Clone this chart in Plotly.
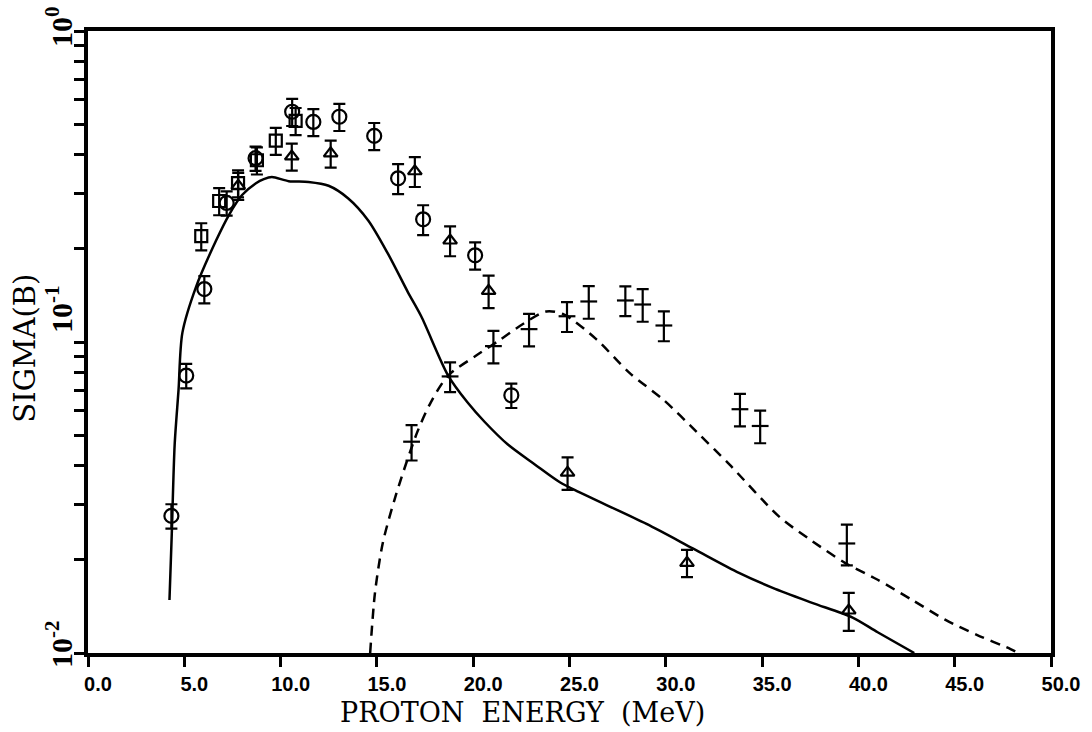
import math
import plotly.graph_objects as go

# ---------------- data ----------------
circ_x = [4.33, 5.1, 6.04, 7.2, 8.7, 10.6, 11.7, 13.05, 14.86, 16.1, 17.4, 20.1, 21.98]
circ_y = [0.0276, 0.078, 0.148, 0.28, 0.39, 0.55, 0.51, 0.53, 0.46, 0.336, 0.248, 0.19, 0.0674]
circ_err = [0.09, 0.09, 0.10, 0.09, 0.09, 0.10, 0.10, 0.10, 0.10, 0.11, 0.11, 0.10, 0.09]

sq_x = [5.88, 6.81, 7.79, 8.77, 9.75, 10.78]
sq_y = [0.219, 0.284, 0.324, 0.384, 0.444, 0.514]
sq_err = [0.10, 0.10, 0.10, 0.10, 0.10, 0.10]

tri_x = [7.8, 10.58, 12.6, 16.97, 18.8, 20.8, 24.9, 31.1, 39.5]
tri_y = [0.318, 0.395, 0.404, 0.354, 0.212, 0.146, 0.038, 0.0195, 0.0137]
tri_err = [0.10, 0.10, 0.10, 0.11, 0.11, 0.12, 0.12, 0.10, 0.14]

plus_x = [16.8, 18.8, 21.05, 22.9, 24.87, 26.0, 27.9, 28.8, 29.9, 33.85, 34.9, 39.4]
plus_y = [0.0478, 0.0775, 0.097, 0.11, 0.121, 0.135, 0.136, 0.132, 0.113, 0.0608, 0.0537, 0.0225]
plus_err = [0.13, 0.11, 0.12, 0.12, 0.11, 0.12, 0.11, 0.12, 0.11, 0.12, 0.12, 0.15]

theory_x = [4.23, 4.35, 4.5, 4.7, 4.9, 5.62, 6.65, 7.33, 8.0, 8.72, 9.13, 9.55, 10.42,
            11.45, 12.49, 13.5, 14.55, 15.58, 16.6, 17.3, 18.7, 19.7, 20.6, 21.8, 23.2,
            24.5, 25.5, 29.0, 31.4, 33.8, 35.55, 37.6, 39.7, 41.0, 42.9]
theory_y = [0.0148, 0.0242, 0.0468, 0.07, 0.107, 0.151, 0.212, 0.257, 0.297, 0.324, 0.334,
            0.339, 0.329, 0.327, 0.318, 0.29, 0.246, 0.192, 0.145, 0.121, 0.078, 0.064,
            0.0553, 0.0468, 0.0404, 0.0354, 0.0329, 0.026, 0.0217, 0.0181, 0.0162, 0.0145,
            0.0130, 0.01166, 0.01]

dash_x = [14.65, 14.9, 15.3, 16.0, 17.1, 17.8, 18.7, 20.1, 21.3, 22.65, 23.8, 24.7, 26.4,
          28.1, 29.9, 31.6, 33.3, 35.9, 37.6, 39.3, 41.0, 42.8, 44.5, 46.2, 47.9, 48.3]
dash_y = [0.01, 0.0156, 0.0225, 0.0324, 0.0514, 0.064, 0.078, 0.090, 0.1007, 0.115,
          0.1254, 0.1227, 0.102, 0.0797, 0.065, 0.0514, 0.0404, 0.0274, 0.0229, 0.0195,
          0.0172, 0.0148, 0.0128, 0.0114, 0.0103, 0.01]

x_tickvals = [0, 5, 10, 15, 20, 25, 30, 35, 40, 45, 50]
x_ticktext = ["0.0", "5.0", "10.0", "15.0", "20.0", "25.0", "30.0", "35.0", "40.0", "45.0", "50.0"]

y_tickvals = [0.01, 0.02, 0.03, 0.04, 0.05, 0.06, 0.07, 0.08, 0.09,
              0.1, 0.2, 0.3, 0.4, 0.5, 0.6, 0.7, 0.8, 0.9, 1.0]
y_label_vals = [0.01, 0.1, 1.0]
y_label_text = ["10<sup>-2</sup>", "10<sup>-1</sup>", "10<sup>0</sup>"]

x_title = "PROTON\u00a0\u00a0ENERGY\u00a0\u00a0(MeV)"
y_title = "SIGMA(B)"

# ---------------- styling ----------------
SERIF = "DejaVu Serif"
SERIF2 = "Liberation Serif"
SANS = "Liberation Sans"
y_label_shift = [9, 33, 4]   # px, placement of the rotated decade labels

fig = go.Figure()

fig.add_trace(go.Scatter(x=theory_x, y=theory_y, mode="lines",
                         line=dict(color="black", width=2.5, shape="spline", smoothing=0.8),
                         showlegend=False, hoverinfo="skip"))
fig.add_trace(go.Scatter(x=dash_x, y=dash_y, mode="lines",
                         line=dict(color="black", width=2.5, dash="10px,7px", shape="spline", smoothing=0.8),
                         showlegend=False, hoverinfo="skip"))


def err(ys, fr):
    return dict(type="data", symmetric=False,
                array=[y * f for y, f in zip(ys, fr)],
                arrayminus=[y * f for y, f in zip(ys, fr)],
                color="black", thickness=2.2, width=6)


fig.add_trace(go.Scatter(x=circ_x, y=circ_y, mode="markers",
                         marker=dict(symbol="circle-open", size=14, color="black", line=dict(width=2.2)),
                         error_y=err(circ_y, circ_err), showlegend=False))
fig.add_trace(go.Scatter(x=sq_x, y=sq_y, mode="markers",
                         marker=dict(symbol="square-open", size=12, color="black", line=dict(width=2.2)),
                         error_y=err(sq_y, sq_err), showlegend=False))
fig.add_trace(go.Scatter(x=tri_x, y=tri_y, mode="markers",
                         marker=dict(symbol="triangle-up-open", size=12, color="black", line=dict(width=2.2)),
                         error_y=err(tri_y, tri_err), showlegend=False))
fig.add_trace(go.Scatter(x=plus_x, y=plus_y, mode="markers",
                         marker=dict(symbol="line-ew-open", size=12, color="black", line=dict(width=2.2, color="black")),
                         error_y=err(plus_y, plus_err), showlegend=False))

annotations = [
    dict(text=x_title, xref="paper", yref="paper", x=0.451, y=-0.095,
         xanchor="center", yanchor="middle", showarrow=False,
         font=dict(family=SERIF, size=27, color="black")),
    dict(text=y_title, xref="paper", yref="paper", x=-0.065, y=0.49,
         xanchor="center", yanchor="middle", textangle=-90, showarrow=False,
         font=dict(family=SERIF, size=29, color="black")),
]
for v, t, s in zip(y_label_vals, y_label_text, y_label_shift):
    annotations.append(dict(text=t, xref="paper", yref="y", x=-0.03, y=math.log10(v),
                            yshift=s, xanchor="center", yanchor="middle", textangle=-90,
                            showarrow=False,
                            font=dict(family=SERIF2, size=30, color="black", weight="bold")))

fig.update_layout(
    width=1092, height=732,
    margin=dict(l=88, r=35, t=31, b=71),
    paper_bgcolor="white", plot_bgcolor="white",
    font=dict(family=SERIF, color="black"),
    xaxis=dict(range=[0, 50], tickvals=x_tickvals, ticktext=x_ticktext,
               ticks="outside", ticklen=10, tickwidth=2.5, tickcolor="black",
               ticklabelshift=10,
               showline=True, linewidth=4, linecolor="black", mirror=True,
               showgrid=False, zeroline=False,
               tickfont=dict(family=SANS, size=20, color="black", weight="bold"),
               title=dict(text="")),
    yaxis=dict(type="log", range=[-2, 0], tickvals=y_tickvals,
               showticklabels=False,
               ticks="outside", ticklen=10, tickwidth=2.5, tickcolor="black",
               showline=True, linewidth=4, linecolor="black", mirror=True,
               showgrid=False, zeroline=False,
               title=dict(text="")),
    annotations=annotations,
)

fig.write_html("out.html")
